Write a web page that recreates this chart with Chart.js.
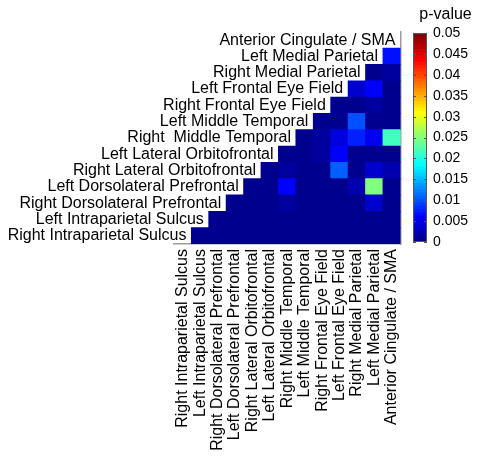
<!DOCTYPE html>
<html>
<head>
<meta charset="utf-8">
<script src="https://cdn.jsdelivr.net/npm/chart.js@4.4.0/dist/chart.umd.min.js"></script>
<style>
  html, body { margin: 0; padding: 0; background: #fff; }
  #wrap { position: relative; width: 478px; height: 456px; }
  #heat { position: absolute; left: 0; top: 0; }
  #bar { position: absolute; left: 400px; top: 0; }
</style>
</head>
<body>
<div id="wrap">
  <canvas id="heat" width="478" height="456"></canvas>
  <canvas id="bar" width="78" height="260"></canvas>
</div>
<script>
const font = '"Liberation Sans", Arial, Helvetica, sans-serif';

// regions, bottom row / left column first
const regions = [
  "Right Intraparietal Sulcus",
  "Left Intraparietal Sulcus",
  "Right Dorsolateral Prefrontal",
  "Left Dorsolateral Prefrontal",
  "Right Lateral Orbitofrontal",
  "Left Lateral Orbitofrontal",
  "Right Middle Temporal",
  "Left Middle Temporal",
  "Right Frontal Eye Field",
  "Left Frontal Eye Field",
  "Right Medial Parietal",
  "Left Medial Parietal",
  "Anterior Cingulate / SMA",
];
// row labels as printed (one has a double space)
const rowNames = regions.map((r) => r === "Right Middle Temporal" ? "Right  Middle Temporal" : r);

// p-values of row r against the columns r+1 .. 12
const pValues = [
  [0.0003, 0.0003, 0.0003, 0.0003, 0.0003, 0.0003, 0.0003, 0.0003, 0.0003, 0.0003, 0.0003, 0.0003],
  [0.0003, 0.0003, 0.0003, 0.0003, 0.0003, 0.0003, 0.0003, 0.0003, 0.0003, 0.0003, 0.0003],
  [0.0004, 0.0004, 0.0004, 0.0012, 0.0004, 0.0004, 0.0004, 0.0004, 0.0035, 0.0004],
  [0.0004, 0.0004, 0.0058, 0.0004, 0.0004, 0.0004, 0.0018, 0.0245, 0.0004],
  [0.0004, 0.0012, 0.0004, 0.0004, 0.0105, 0.0004, 0.0035, 0.0018],
  [0.0004, 0.0004, 0.0014, 0.0058, 0.0004, 0.0004, 0.0004],
  [0.0004, 0.0014, 0.0042, 0.0072, 0.005, 0.0215],
  [0.0004, 0.0004, 0.0098, 0.0004, 0.0004],
  [0.0004, 0.0004, 0.0012, 0.0004],
  [0.0038, 0.0058, 0.0004],
  [0.0004, 0.0012],
  [0.0066],
  [],
];

const pMax = 0.05;
const colorbarTicks = [0, 0.005, 0.01, 0.015, 0.02, 0.025, 0.03, 0.035, 0.04, 0.045, 0.05];

// matlab style jet colormap
function jetColormap(m) {
  const n = Math.ceil(m / 4);
  const u = [];
  for (let i = 1; i <= n; i++) u.push(i / n);
  for (let i = 1; i < n; i++) u.push(1);
  for (let i = n; i >= 1; i--) u.push(i / n);
  const shift = Math.ceil(n / 2) - (m % 4 === 1 ? 1 : 0);
  const cmap = Array.from({ length: m }, () => [0, 0, 0]);
  u.forEach((v, k) => {
    const g = shift + k + 1;
    const r = g + n;
    const b = g - n;
    if (g <= m) cmap[g - 1][1] = v;
    if (r <= m) cmap[r - 1][0] = v;
    if (b >= 1) cmap[b - 1][2] = v;
  });
  return cmap.map(([r, g, b]) =>
    "rgb(" + Math.round(r * 255) + "," + Math.round(g * 255) + "," + Math.round(b * 255) + ")");
}
const jet = jetColormap(64);

function pColor(p) {
  const i = Math.min(jet.length - 1, Math.floor((p / pMax) * jet.length));
  return jet[i];
}

// one floating-bar dataset per row
const heatSets = regions.map((_, r) => ({
  data: regions.map((_, c) => (c > r ? [r - 0.5, r + 0.5] : null)),
  backgroundColor: regions.map((_, c) => (c > r ? pColor(pValues[r][c - r - 1]) : "transparent")),
  borderWidth: 0,
  barPercentage: 1,
  categoryPercentage: 1,
  inflateAmount: 0.5,
}));

const rowLabels = {
  id: "rowLabels",
  afterDatasetsDraw(chart) {
    const { ctx, scales } = chart;
    ctx.save();
    ctx.font = "16px " + font;
    ctx.fillStyle = "#000";
    ctx.textAlign = "right";
    ctx.textBaseline = "middle";
    rowNames.forEach((name, r) => {
      ctx.fillText(name, scales.x.getPixelForValue(r + 0.5) - 5, scales.y.getPixelForValue(r));
    });
    ctx.restore();
  },
};

new Chart(document.getElementById("heat"), {
  type: "bar",
  data: { labels: regions, datasets: heatSets },
  options: {
    responsive: false,
    animation: false,
    layout: { padding: { left: 174, right: 77.5, top: 32, bottom: 0 } },
    plugins: { legend: { display: false }, tooltip: { enabled: false } },
    scales: {
      x: {
        stacked: true,
        grid: { display: false, drawTicks: false },
        border: { color: "#9c9c9c", width: 1.5 },
        ticks: {
          autoSkip: false,
          minRotation: 90,
          maxRotation: 90,
          padding: 5,
          color: "#000",
          font: { family: font, size: 16 },
        },
        afterFit: (s) => { s.height = 212; },
      },
      y: {
        type: "linear",
        position: "right",
        min: -0.5,
        max: 12.5,
        stacked: false,
        ticks: { display: false },
        grid: { display: false, drawTicks: false },
        border: { color: "#9c9c9c", width: 1.5 },
        afterFit: (s) => { s.width = 0; },
      },
    },
  },
  plugins: [rowLabels],
});

// colorbar
const colorbarFrame = {
  id: "colorbarFrame",
  afterDatasetsDraw(chart) {
    const { ctx, chartArea: a, scales } = chart;
    ctx.save();
    ctx.strokeStyle = "#555";
    ctx.lineWidth = 1;
    ctx.strokeRect(a.left + 0.5, a.top + 0.5, a.right - a.left - 1, a.bottom - a.top - 1);
    ctx.beginPath();
    colorbarTicks.forEach((v) => {
      const y = Math.round(scales.y.getPixelForValue(v)) + 0.5;
      ctx.moveTo(a.left, y); ctx.lineTo(a.left + 3, y);
      ctx.moveTo(a.right - 3, y); ctx.lineTo(a.right, y);
    });
    ctx.stroke();
    ctx.restore();
  },
};

new Chart(document.getElementById("bar"), {
  type: "bar",
  data: {
    labels: ["p"],
    datasets: jet.map((c, i) => ({
      data: [[(i * pMax) / jet.length, ((i + 1) * pMax) / jet.length]],
      backgroundColor: c,
      borderWidth: 0,
      barPercentage: 1,
      categoryPercentage: 1,
      inflateAmount: 0.5,
    })),
  },
  options: {
    responsive: false,
    animation: false,
    layout: { padding: { left: 13, right: 0, top: 0, bottom: 18 } },
    plugins: {
      legend: { display: false },
      tooltip: { enabled: false },
      title: {
        display: true,
        text: "p-value",
        color: "#000",
        font: { family: font, size: 16, weight: "normal" },
        padding: { top: 5, bottom: 9 },
      },
    },
    scales: {
      x: { display: false, stacked: true },
      y: {
        position: "right",
        min: 0,
        max: pMax,
        stacked: false,
        grid: { display: false, drawTicks: false },
        border: { display: false },
        afterBuildTicks: (s) => { s.ticks = colorbarTicks.map((v) => ({ value: v })); },
        ticks: { padding: 6, color: "#000", font: { family: font, size: 14 }, callback: (v) => String(v) },
        afterFit: (s) => { s.width = 51; },
      },
    },
  },
  plugins: [colorbarFrame],
});
</script>
</body>
</html>
